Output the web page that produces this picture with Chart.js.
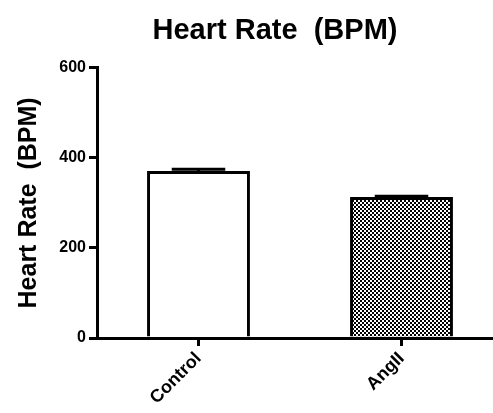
<!DOCTYPE html>
<html>
<head>
<meta charset="utf-8">
<script src="https://cdn.jsdelivr.net/npm/chart.js@4.4.1/dist/chart.umd.min.js"></script>
<style>
html,body{margin:0;padding:0;background:#fff;overflow:hidden;}
#wrap{width:503px;height:413px;}
</style>
</head>
<body>
<div id="wrap"><canvas id="c" width="503" height="413"></canvas></div>
<script>
// Data
const categories = ['Control', 'AngII'];
const heartRate = [371, 313];
const sem = [4, 1.5];
const yTicks = [0, 200, 400, 600];
const chartTitle = 'Heart Rate  (BPM)';
const yTitle = 'Heart Rate  (BPM)';

// fill pattern for second bar (fine checkerboard)
function makePattern() {
  const p = document.createElement('canvas');
  p.width = 4; p.height = 4;
  const g = p.getContext('2d');
  g.fillStyle = '#ffffff'; g.fillRect(0, 0, 4, 4);
  g.fillStyle = '#000000';
  g.fillRect(0, 0, 2, 2);
  g.fillRect(2, 2, 2, 2);
  return g.createPattern(p, 'repeat');
}
const ctx = document.getElementById('c').getContext('2d');
const pattern = makePattern();

const errorBars = {
  id: 'errorBars',
  afterDatasetsDraw(chart) {
    const meta = chart.getDatasetMeta(0);
    const ys = chart.scales.y;
    const c = chart.ctx;
    c.save();
    c.strokeStyle = '#000';
    c.lineWidth = 3;
    meta.data.forEach((bar, i) => {
      const x = bar.x;
      const yTop = ys.getPixelForValue(heartRate[i] + sem[i]);
      const yBar = ys.getPixelForValue(heartRate[i]);
      const half = bar.width * 0.26;
      c.beginPath();
      c.moveTo(x, yBar);
      c.lineTo(x, yTop);
      c.moveTo(x - half, yTop);
      c.lineTo(x + half, yTop);
      c.stroke();
    });
    c.restore();
  }
};

const titleShift = {
  id: 'titleShift',
  afterLayout(chart) {
    if (chart.titleBlock) {
      chart.titleBlock.left = 47;
      chart.titleBlock.right = 503;
    }
  }
};

new Chart(ctx, {
  type: 'bar',
  data: {
    labels: categories,
    datasets: [{
      data: heartRate,
      backgroundColor: ['#ffffff', pattern],
      borderColor: '#000000',
      borderWidth: 3,
      borderSkipped: 'bottom',
      categoryPercentage: 1.0,
      barPercentage: 0.507
    }]
  },
  options: {
    responsive: false,
    animation: false,
    devicePixelRatio: 1,
    layout: { padding: 0 },
    plugins: {
      legend: { display: false },
      tooltip: { enabled: false },
      title: {
        display: true,
        text: chartTitle,
        color: '#000',
        font: { family: 'Liberation Sans, Arial, sans-serif', size: 29, weight: 'bold' },
        padding: { top: 14, bottom: 19 }
      }
    },
    scales: {
      x: {
        offset: true,
        afterFit(scale) { scale.height = 75; },
        border: { display: true, color: '#000', width: 3 },
        grid: { display: true, offset: false, drawOnChartArea: false, drawTicks: true, tickLength: 8, color: '#000', lineWidth: 3 },
        ticks: {
          color: '#000',
          maxRotation: 45, minRotation: 45,
          padding: 2,
          font: { family: 'Liberation Sans, Arial, sans-serif', size: 18, weight: 'bold' }
        }
      },
      y: {
        min: 0, max: 600,
        afterFit(scale) { scale.width = 97; },
        afterBuildTicks(scale) { scale.ticks = yTicks.map(v => ({ value: v })); },
        border: { display: true, color: '#000', width: 3 },
        grid: { display: true, drawOnChartArea: false, drawTicks: true, tickLength: 8, color: '#000', lineWidth: 3 },
        ticks: {
          color: '#000',
          padding: 3,
          font: { family: 'Liberation Sans, Arial, sans-serif', size: 16, weight: 'bold' }
        },
        title: {
          display: true,
          text: yTitle,
          color: '#000',
          font: { family: 'Liberation Sans, Arial, sans-serif', size: 25, weight: 'bold' },
          padding: { top: 14, bottom: 0 }
        }
      }
    }
  },
  plugins: [errorBars, titleShift]
});
</script>
</body>
</html>
